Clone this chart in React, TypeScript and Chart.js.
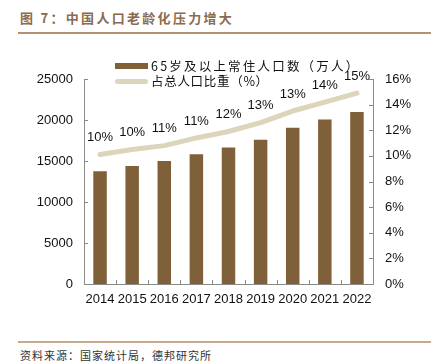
import React, { useEffect, useRef } from "react";
import { Chart, registerables } from "chart.js";

Chart.register(...registerables);

const years = ["2014", "2015", "2016", "2017", "2018", "2019", "2020", "2021", "2022"];
const population = [13755, 14386, 15003, 15831, 16658, 17603, 19064, 20056, 20978];
const ratio = [10.1, 10.5, 10.8, 11.4, 11.9, 12.6, 13.5, 14.2, 14.9];
const ratioLabels = ["10%", "10%", "11%", "11%", "12%", "13%", "13%", "14%", "15%"];
const leftTicks = [0, 5000, 10000, 15000, 20000, 25000];
const rightTicks = [0, 2, 4, 6, 8, 10, 12, 14, 16];

const BAR = "#806039";
const LINE = "#DDD4BC";
const AXIS = "#8a8a8a";
const FONT = "'Liberation Sans', Arial, sans-serif";
const CJK = "'Noto Sans CJK SC', sans-serif";

export default function App() {
  const ref = useRef<HTMLCanvasElement | null>(null);

  useEffect(() => {
    const canvas = ref.current;
    if (!canvas) return;

    const extras = {
      id: "extras",
      afterDatasetsDraw(chart: any) {
        const ctx = chart.ctx;
        const { left, right, bottom } = chart.chartArea;
        const yl = chart.scales.y;
        const yr = chart.scales.y1;
        ctx.save();
        ctx.strokeStyle = AXIS;
        ctx.lineWidth = 1;
        ctx.beginPath();
        leftTicks.forEach((v) => {
          const y = Math.round(yl.getPixelForValue(v)) + 0.5;
          ctx.moveTo(left, y);
          ctx.lineTo(left + 4, y);
        });
        rightTicks.forEach((v) => {
          const y = Math.round(yr.getPixelForValue(v)) + 0.5;
          ctx.moveTo(right - 4, y);
          ctx.lineTo(right, y);
        });
        const step = (right - left) / years.length;
        for (let i = 1; i < years.length; i++) {
          const x = Math.round(left + step * i) + 0.5;
          ctx.moveTo(x, bottom);
          ctx.lineTo(x, bottom - 4);
        }
        ctx.stroke();

        const meta = chart.getDatasetMeta(1);
        ctx.fillStyle = "#111";
        ctx.font = `13px ${FONT}`;
        ctx.textAlign = "center";
        ctx.textBaseline = "middle";
        meta.data.forEach((pt: any, i: number) => {
          ctx.fillText(ratioLabels[i], pt.x, pt.y - 17);
        });
        ctx.restore();
      },
    };

    const chart = new Chart(canvas, {
      type: "bar",
      data: {
        labels: years,
        datasets: [
          {
            type: "bar",
            label: "65岁及以上常住人口数（万人）",
            data: population,
            backgroundColor: BAR,
            yAxisID: "y",
            categoryPercentage: 1,
            barPercentage: 0.42,
            order: 2,
          },
          {
            type: "line",
            label: "占总人口比重（%）",
            data: ratio,
            borderColor: LINE,
            borderWidth: 5,
            borderCapStyle: "round",
            borderJoinStyle: "round",
            pointRadius: 0,
            tension: 0,
            yAxisID: "y1",
            order: 1,
          },
        ],
      },
      options: {
        animation: false,
        responsive: false,
        maintainAspectRatio: false,
        layout: { padding: { top: 29, left: 0, right: 0, bottom: 0 } },
        plugins: { legend: { display: false }, tooltip: { enabled: false } },
        scales: {
          x: {
            grid: { display: false, drawTicks: false },
            border: { display: true, color: AXIS },
            ticks: { color: "#111", font: { family: FONT, size: 13 }, padding: 8, maxRotation: 0 },
            afterFit(s: any) {
              s.height = 26;
            },
          },
          y: {
            position: "left",
            min: 0,
            max: 25000,
            afterBuildTicks(s: any) {
              s.ticks = leftTicks.map((v) => ({ value: v }));
            },
            grid: { display: false, drawTicks: false },
            border: { display: true, color: AXIS },
            ticks: {
              color: "#111",
              font: { family: FONT, size: 13 },
              padding: 11,
              callback: (v: any) => String(v),
            },
            afterFit(s: any) {
              s.width = 84;
            },
          },
          y1: {
            position: "right",
            min: 0,
            max: 16,
            afterBuildTicks(s: any) {
              s.ticks = rightTicks.map((v) => ({ value: v }));
            },
            grid: { display: false, drawTicks: false },
            border: { display: true, color: AXIS },
            ticks: {
              color: "#111",
              font: { family: FONT, size: 13 },
              padding: 12,
              callback: (v: any) => `${v}%`,
            },
            afterFit(s: any) {
              s.width = 58;
            },
          },
        },
      },
      plugins: [extras],
    } as any);

    return () => chart.destroy();
  }, []);

  const legendText = {
    position: "absolute" as const,
    left: 151,
    fontFamily: CJK,
    fontSize: 12.5,
    color: "#111",
    whiteSpace: "nowrap" as const,
    lineHeight: "16px",
  };

  return (
    <div style={{ position: "fixed", left: 0, top: 0, width: 431, height: 362, background: "#fff", overflow: "hidden" }}>
      <div
        style={{
          position: "absolute",
          left: 20,
          top: 9,
          fontFamily: CJK,
          fontWeight: 700,
          fontSize: 13,
          letterSpacing: 2.3,
          color: "#8B6B4C",
          whiteSpace: "nowrap",
          lineHeight: "18px",
        }}
      >
        图 7：中国人口老龄化压力增大
      </div>
      <div style={{ position: "absolute", left: 18, top: 32, width: 413, height: 2, background: "#B39273" }} />
      <canvas ref={ref} width={431} height={260} style={{ position: "absolute", left: 0, top: 50 }} />
      <div style={{ position: "absolute", left: 115, top: 63, width: 33, height: 6, background: BAR }} />
      <div style={{ position: "absolute", left: 115, top: 79, width: 33, height: 5, borderRadius: 3, background: LINE }} />
      <div style={{ ...legendText, top: 58, letterSpacing: 2.2 }}>65岁及以上常住人口数（万人）</div>
      <div style={{ ...legendText, top: 73, letterSpacing: 0.7 }}>占总人口比重（%）</div>
      <div style={{ position: "absolute", left: 18, top: 341, width: 413, height: 2, background: "#C9A98C" }} />
      <div
        style={{
          position: "absolute",
          left: 20,
          top: 347,
          fontFamily: CJK,
          fontSize: 11,
          letterSpacing: 1,
          color: "#333",
          whiteSpace: "nowrap",
          lineHeight: "16px",
        }}
      >
        资料来源：国家统计局，德邦研究所
      </div>
    </div>
  );
}
